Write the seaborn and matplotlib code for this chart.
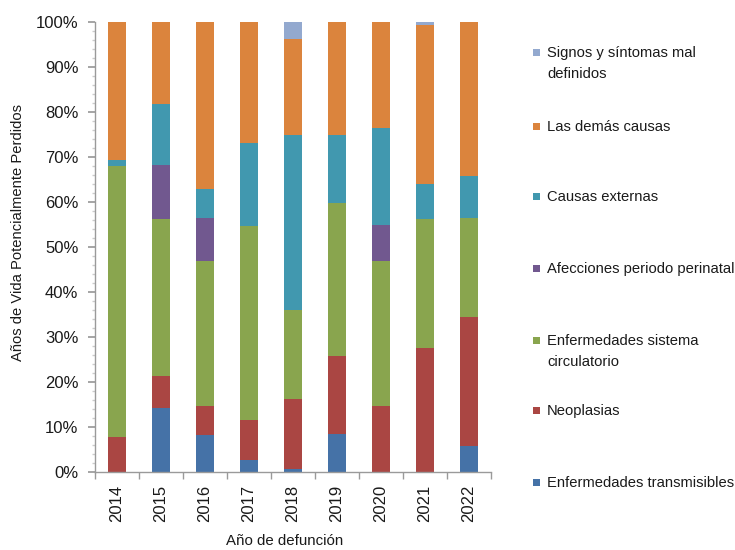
import matplotlib
matplotlib.use("Agg")
import matplotlib.pyplot as plt
from matplotlib.patches import Rectangle
from matplotlib.ticker import FixedLocator, MultipleLocator, FuncFormatter
import seaborn as sns
import numpy as np

# datos (% de AVPP por grupo de causa)
anios = ['2014', '2015', '2016', '2017', '2018', '2019', '2020', '2021', '2022']
transmisibles = [0, 14.3, 8.2, 2.7, 0.6, 8.5, 0, 0, 5.7]
neoplasias = [7.8, 7.1, 6.5, 8.8, 15.6, 17.2, 14.7, 27.6, 28.7]
circulatorio = [60.1, 34.9, 32.3, 43.2, 19.8, 34.0, 32.1, 28.7, 22.1]
perinatal = [0, 11.9, 9.5, 0, 0, 0, 8.1, 0, 0]
externas = [1.4, 13.6, 6.4, 18.4, 38.9, 15.3, 21.5, 7.8, 9.3]
demas = [30.7, 18.2, 37.1, 26.9, 21.4, 25.0, 23.6, 35.2, 34.2]
signos = [0, 0, 0, 0, 3.7, 0, 0, 0.7, 0]

series = [
    ('Enfermedades transmisibles', transmisibles, '#4572A7'),
    ('Neoplasias', neoplasias, '#AA4643'),
    ('Enfermedades sistema\ncirculatorio', circulatorio, '#89A54E'),
    ('Afecciones periodo perinatal', perinatal, '#71588F'),
    ('Causas externas', externas, '#4198AF'),
    ('Las demás causas', demas, '#DB843D'),
    ('Signos y síntomas mal\ndefinidos', signos, '#93A9CF'),
]

sns.set_theme(style="white")
plt.rcParams['font.family'] = ['Liberation Sans', 'DejaVu Sans']

fig = plt.figure(figsize=(7.35, 5.5), dpi=100)
ax = fig.add_axes([95 / 735, 1 - 472 / 550, 396 / 735, 450 / 550])

base = np.zeros(len(anios))
for nombre, vals, col in series:
    sns.barplot(x=anios, y=vals, bottom=base, color=col, width=0.41,
                errorbar=None, linewidth=0, saturation=1, ax=ax)
    base = base + np.array(vals)

ax.set_xlim(-0.5, len(anios) - 0.5)
ax.set_ylim(0, 100)

# ejes estilo hoja de cálculo
for s in ['top', 'right']:
    ax.spines[s].set_visible(False)
for s in ['left', 'bottom']:
    ax.spines[s].set_color('#9a9a9a')
    ax.spines[s].set_linewidth(1)

ax.yaxis.set_major_locator(MultipleLocator(10))
ax.yaxis.set_minor_locator(MultipleLocator(2))
ax.yaxis.set_major_formatter(FuncFormatter(lambda v, p: f'{v:.0f}%'))
ax.tick_params(axis='y', which='major', left=True, length=5, color='#9a9a9a',
               labelsize=12, labelcolor='#1a1a1a', pad=7)
ax.tick_params(axis='y', which='minor', left=True, length=2, color='#cccccc')

ax.xaxis.set_minor_locator(FixedLocator(np.arange(-0.5, len(anios), 1)))
ax.tick_params(axis='x', which='major', bottom=True, length=0,
               labelsize=12, labelcolor='#1a1a1a', pad=9, labelrotation=90)
ax.tick_params(axis='x', which='minor', bottom=True, length=5, color='#9a9a9a')

ax.set_xlabel('Año de defunción', fontsize=10.8, color='#1a1a1a', labelpad=9, x=0.48)
ax.set_ylabel('Años de Vida Potencialmente Perdidos', fontsize=10.6,
              color='#1a1a1a', labelpad=8, y=0.533)

# leyenda a la derecha (orden inverso, como en el original)
ys = [52, 126, 196, 268, 340, 410, 482]
for (nombre, vals, col), y in zip(series[::-1], ys):
    fig.patches.append(Rectangle((533 / 735, 1 - (y + 3.5) / 550), 7 / 735, 7 / 550,
                                 transform=fig.transFigure, facecolor=col,
                                 edgecolor='none'))
    fig.text(547 / 735, 1 - (y - 6) / 550, nombre, fontsize=10.6, color='#1a1a1a',
             va='top', ha='left', linespacing=1.6)

fig.savefig('out.png', dpi=100)
